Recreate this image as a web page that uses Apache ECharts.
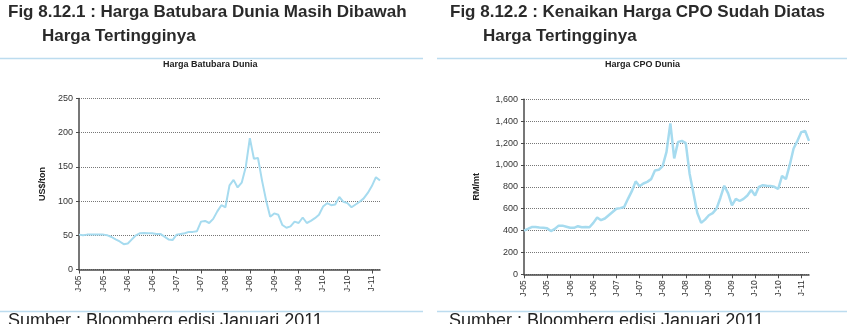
<!DOCTYPE html>
<html>
<head>
<meta charset="utf-8">
<script src="https://cdn.jsdelivr.net/npm/echarts@6/dist/echarts.min.js"></script>
<style>
  html, body { margin: 0; padding: 0; background: #fff; }
  #main { width: 847px; height: 324px; }
</style>
</head>
<body>
<div id="main"></div>
<script>
// month categories Jan 2005 .. Mar 2011
var monthNames = ['Jan','Feb','Mar','Apr','May','Jun','Jul','Aug','Sep','Oct','Nov','Dec'];
var categories = [];
for (var y = 2005; y <= 2011; y++) {
    for (var m = 0; m < 12; m++) {
        if (y === 2011 && m > 2) break;
        categories.push(monthNames[m] + '-' + String(y).slice(2));
    }
}

// tick labels, one every 6 months
var xTickLabels = ['J-05','J-05','J-06','J-06','J-07','J-07','J-08','J-08','J-09','J-09','J-10','J-10','J-11'];

// Harga Batubara Dunia (US$/ton), monthly
var coalPrice = [
    51, 50, 51, 51, 51, 51, 51, 50, 47.5, 44, 41, 37,
    38, 44, 50, 53, 53.5, 53, 53, 52, 52, 48, 44, 43,
    51, 52, 53, 55, 55, 56, 70, 71, 68, 74, 85, 94,
    91, 123, 131, 120, 127, 150, 192, 162, 163, 130, 101, 77,
    82, 80, 65, 61, 63, 70, 68, 76, 68, 71, 75, 80,
    92, 97, 94, 95, 106, 99, 97, 91, 95, 99, 104, 112,
    122, 135, 130
];

// Harga CPO Dunia (RM/mt), monthly
var cpoPrice = [
    400, 415, 432, 432, 428, 425, 420, 395, 415, 445, 445, 435,
    425, 425, 440, 430, 432, 430, 470, 520, 495, 510, 540, 570,
    600, 605, 615, 690, 760, 850, 805, 830, 845, 870, 950, 955,
    990, 1120, 1380, 1060, 1210, 1220, 1200, 920, 740, 560, 470, 500,
    540, 560, 600, 700, 810, 740, 630, 690, 670, 690, 720, 770,
    720, 800, 815, 810, 807, 800, 780, 900, 870, 1000, 1150, 1220,
    1300, 1310, 1220
];

var lineColor = '#a6dbef';
var axisColor = '#4a4a4a';
var textColor = '#333';

function xAxisCfg(gridIndex) {
    return {
        type: 'category',
        gridIndex: gridIndex,
        data: categories,
        boundaryGap: false,
        axisLine: { lineStyle: { color: axisColor, width: 1.5 } },
        axisTick: {
            length: 4,
            lineStyle: { color: axisColor },
            interval: function (i) { return i % 6 === 0; }
        },
        axisLabel: {
            rotate: 90,
            fontSize: 8.5,
            color: textColor,
            fontFamily: 'Liberation Sans',
            margin: 6,
            interval: function (i) { return i % 6 === 0; },
            formatter: function (val, i) { return xTickLabels[i / 6]; }
        },
        splitLine: { show: false }
    };
}

function yAxisCfg(gridIndex, max, interval, name, nameGap, fmt) {
    return {
        type: 'value',
        gridIndex: gridIndex,
        min: 0,
        max: max,
        interval: interval,
        name: name,
        nameLocation: 'middle',
        nameGap: nameGap,
        nameTextStyle: { fontSize: 9, fontWeight: 'bold', color: '#222', fontFamily: 'Liberation Sans' },
        axisLine: { show: true, lineStyle: { color: axisColor, width: 1.5 } },
        axisTick: { show: true, length: 3, lineStyle: { color: axisColor } },
        axisLabel: { fontSize: 9, color: textColor, fontFamily: 'Liberation Sans', margin: 6, formatter: fmt },
        splitLine: { lineStyle: { color: '#777', type: 'dotted', width: 1 } }
    };
}

function textEl(x, y, text, font, color) {
    return {
        type: 'text', left: x, top: y, silent: true,
        style: { text: text, font: font, fill: color }
    };
}

function lineEl(x1, y1, x2, y2) {
    return {
        type: 'line', silent: true,
        shape: { x1: x1, y1: y1, x2: x2, y2: y2 },
        style: { stroke: '#bcdcef', lineWidth: 1.5 }
    };
}

var myChart = echarts.init(document.getElementById('main'));

var option = {
    animation: false,
    backgroundColor: '#fff',
    grid: [
        { left: 79, right: 467, top: 98.5, bottom: 54.5 },
        { left: 524, right: 38, top: 99.3, bottom: 49.7 }
    ],
    xAxis: [xAxisCfg(0), xAxisCfg(1)],
    yAxis: [
        yAxisCfg(0, 250, 50, 'US$/ton', 32),
        yAxisCfg(1, 1600, 200, 'RM/mt', 43, function (v) {
            return v.toString().replace(/\B(?=(\d{3})+(?!\d))/g, ',');
        })
    ],
    series: [
        {
            name: 'Harga Batubara Dunia',
            type: 'line',
            xAxisIndex: 0, yAxisIndex: 0,
            data: coalPrice,
            showSymbol: false,
            lineStyle: { color: lineColor, width: 2 }
        },
        {
            name: 'Harga CPO Dunia',
            type: 'line',
            xAxisIndex: 1, yAxisIndex: 1,
            data: cpoPrice,
            showSymbol: false,
            lineStyle: { color: lineColor, width: 2.5 }
        }
    ],
    graphic: [
        textEl(8, 4, 'Fig 8.12.1 : Harga Batubara Dunia Masih Dibawah', 'bold 17px "Liberation Sans"', '#2a2a2a'),
        textEl(42, 28, 'Harga Tertingginya', 'bold 17px "Liberation Sans"', '#2a2a2a'),
        textEl(450, 4, 'Fig 8.12.2 : Kenaikan Harga CPO Sudah Diatas', 'bold 17px "Liberation Sans"', '#2a2a2a'),
        textEl(483, 28, 'Harga Tertingginya', 'bold 17px "Liberation Sans"', '#2a2a2a'),
        lineEl(0, 58.5, 423, 58.5),
        lineEl(437, 58.5, 847, 58.5),
        lineEl(0, 311.5, 423, 311.5),
        lineEl(437, 311.5, 847, 311.5),
        textEl(163, 60.5, 'Harga Batubara Dunia', 'bold 9px "Liberation Sans"', '#222'),
        textEl(605, 60.5, 'Harga CPO Dunia', 'bold 9px "Liberation Sans"', '#222'),
        textEl(8, 312, 'Sumber : Bloomberg edisi Januari 2011', '18px "Liberation Sans"', '#222'),
        textEl(449, 312, 'Sumber : Bloomberg edisi Januari 2011', '18px "Liberation Sans"', '#222')
    ]
};

myChart.setOption(option);
</script>
</body>
</html>
